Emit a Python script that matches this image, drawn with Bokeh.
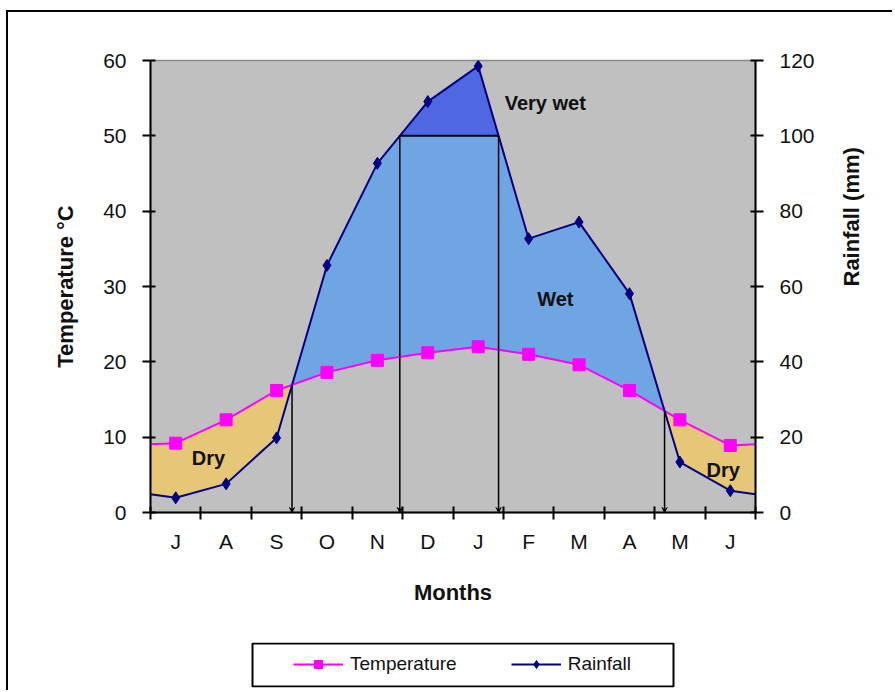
import math
import numpy as np
from bokeh.plotting import figure
from bokeh.layouts import column
from bokeh.models import (Range1d, LinearAxis, FixedTicker, Legend, LegendItem,
                          Arrow, VeeHead, Label, ColumnDataSource)
from bokeh.embed import file_html
from bokeh.resources import INLINE

# ---------------- data ----------------
months = ["J", "A", "S", "O", "N", "D", "J", "F", "M", "A", "M", "J"]
temperature = [9.2, 12.3, 16.2, 18.6, 20.2, 21.2, 22.0, 21.0, 19.6, 16.2, 12.3, 8.9]   # °C
rainfall = [3.9, 7.6, 19.8, 65.6, 92.7, 109.1, 118.5, 72.7, 77.1, 58.1, 13.4, 5.8]    # mm
temp_ticks = [0, 10, 20, 30, 40, 50, 60]
rain_ticks = [0, 20, 40, 60, 80, 100, 120]
very_wet_mm = 100

FONT = "Liberation Sans"
GRAY = "#c0c0c0"
DRY = "#e6c677"
WET = "#6fa5e2"
VWET = "#5067e4"
TEMP_C = "#ff00ff"
RAIN_C = "#000080"

# ---------------- derived geometry ----------------
n = len(months)
centers = [i + 0.5 for i in range(n)]
edge_t = (temperature[-1] + temperature[0]) / 2.0
edge_r = (rainfall[-1] + rainfall[0]) / 2.0
xk = np.array([0.0] + centers + [float(n)])
tk = np.array([edge_t] + temperature + [edge_t])
rk_mm = np.array([edge_r] + rainfall + [edge_r])
rk = rk_mm / 2.0                       # rainfall in temperature units (2 mm : 1 °C)
cap = very_wet_mm / 2.0

xs = [xk[0]]
cross_tr = []   # temp / rain crossings
cross_cap = []  # rain / 100 mm crossings
for i in range(len(xk) - 1):
    x0, x1 = xk[i], xk[i + 1]
    extra = []
    f0, f1 = rk[i] - tk[i], rk[i + 1] - tk[i + 1]
    if f0 * f1 < 0:
        xc = x0 + (x1 - x0) * f0 / (f0 - f1)
        extra.append(xc)
        cross_tr.append((xc, float(np.interp(xc, xk, tk))))
    g0, g1 = rk[i] - cap, rk[i + 1] - cap
    if g0 * g1 < 0:
        xc = x0 + (x1 - x0) * g0 / (g0 - g1)
        extra.append(xc)
        cross_cap.append((xc, cap))
    xs.extend(sorted(extra))
    xs.append(x1)
xs = np.array(xs)
t_all = np.interp(xs, xk, tk)
r_all = np.interp(xs, xk, rk)

# ---------------- main figure ----------------
W, H = 884, 620
ML, MT, FW, FH = 142, 48, 605, 452
p = figure(width=W, height=H, output_backend="svg", toolbar_location=None,
           x_range=Range1d(0, n), y_range=Range1d(temp_ticks[0], temp_ticks[-1]),
           min_border_left=ML, min_border_right=W - ML - FW,
           min_border_top=MT, min_border_bottom=H - MT - FH)
p.extra_y_ranges = {"rain": Range1d(rain_ticks[0], rain_ticks[-1])}
p.background_fill_color = GRAY
p.border_fill_color = "white"
p.outline_line_color = "#8a8a8a"
p.outline_line_width = 1.5
p.grid.visible = False

# fills
p.varea(x=xs, y1=r_all, y2=np.maximum(t_all, r_all), fill_color=DRY)
p.varea(x=xs, y1=t_all, y2=np.maximum(t_all, np.minimum(r_all, cap)), fill_color=WET)
p.varea(x=xs, y1=np.full_like(xs, cap), y2=np.maximum(r_all, cap), fill_color=VWET)

# division lines
vx = [c[0] for c in cross_tr] + [c[0] for c in cross_cap]
vy = [c[1] for c in cross_tr] + [c[1] for c in cross_cap]
src = ColumnDataSource(dict(x0=vx, y0=vy, x1=vx, y1=[0.0] * len(vx)))
p.add_layout(Arrow(source=src, x_start="x0", y_start="y0", x_end="x1", y_end="y1",
                   line_color="black", line_width=1.5,
                   end=VeeHead(size=5, line_color="black", line_width=1, fill_color="black")))
if len(cross_cap) >= 2:
    p.segment(x0=[cross_cap[0][0]], y0=[cap], x1=[cross_cap[-1][0]], y1=[cap],
              line_color="black", line_width=2)

# series
p.line(xk, tk, line_color=TEMP_C, line_width=2)
p.scatter(centers, temperature, marker="square", size=12,
          fill_color=TEMP_C, line_color=TEMP_C)
p.line(xk, rk_mm, line_color=RAIN_C, line_width=2, y_range_name="rain")
p.scatter(centers, rainfall, marker="diamond", size=12,
          fill_color=RAIN_C, line_color=RAIN_C, y_range_name="rain")

# region labels
for txt, x, y in [("Very wet", 7.83, 54.4), ("Wet", 8.03, 28.4),
                  ("Dry", 1.15, 7.2), ("Dry", 11.36, 5.6)]:
    p.add_layout(Label(x=x, y=y, text=txt, text_align="center", text_baseline="middle",
                       text_font=FONT, text_font_size="20px", text_font_style="bold",
                       text_color="#111111"))

# axes
xa = p.xaxis[0]
xa.ticker = FixedTicker(ticks=centers, minor_ticks=list(range(n + 1)))
xa.major_label_overrides = {c: m for c, m in zip(centers, months)}
xa.major_tick_in = 0
xa.major_tick_out = 0
xa.minor_tick_in = 6
xa.minor_tick_out = 7
xa.minor_tick_line_color = "black"
xa.minor_tick_line_width = 2
xa.axis_line_color = "black"
xa.axis_line_width = 2
xa.major_label_standoff = 10
xa.major_label_text_font = FONT
xa.major_label_text_font_size = "21px"
xa.major_label_text_color = "#111111"
xa.axis_label = "Months"
xa.axis_label_standoff = 24
xa.axis_label_text_font = FONT
xa.axis_label_text_font_size = "22px"
xa.axis_label_text_font_style = "bold"
xa.axis_label_text_color = "#111111"

ya = p.yaxis[0]
ra = LinearAxis(y_range_name="rain")
p.add_layout(ra, "right")
for ax, ticks, lab, stand in [(ya, temp_ticks, "Temperature °C", 22),
                             (ra, rain_ticks, "Rainfall (mm)", 34)]:
    ax.ticker = FixedTicker(ticks=ticks, minor_ticks=[])
    ax.major_tick_in = 5
    ax.major_tick_out = 8
    ax.minor_tick_in = 0
    ax.minor_tick_out = 0
    ax.major_tick_line_color = "black"
    ax.major_tick_line_width = 2
    ax.axis_line_color = "black"
    ax.axis_line_width = 2
    ax.major_label_standoff = 16
    ax.major_label_text_font = FONT
    ax.major_label_text_font_size = "21px"
    ax.major_label_text_color = "#111111"
    ax.axis_label = lab
    ax.axis_label_standoff = stand
    ax.axis_label_text_font = FONT
    ax.axis_label_text_font_size = "22px"
    ax.axis_label_text_font_style = "bold"
    ax.axis_label_text_color = "#111111"
ra.axis_label_orientation = math.pi / 2

# ---------------- legend strip (frame aligned with the main frame) ----------------
LH = 45
BOX_L, BOX_R = 102, 523          # legend box, in pixels from the frame's left edge
q = figure(width=W, height=58, output_backend="svg", toolbar_location=None,
           x_range=Range1d(0, FW), y_range=Range1d(0, LH),
           x_axis_type=None, y_axis_type=None,
           min_border_left=ML, min_border_right=W - ML - FW,
           min_border_top=10, min_border_bottom=58 - 10 - LH)
q.grid.visible = False
q.background_fill_color = "white"
q.border_fill_color = "white"
q.outline_line_color = None
q.quad(left=[BOX_L], right=[BOX_R], bottom=[1], top=[LH - 1],
       fill_color="white", line_color="black", line_width=2)
# legend-only renderers, kept far outside the visible area
off = [-5000.0, -4999.0]
lt = q.line(off, off, line_color=TEMP_C, line_width=2)
mt = q.scatter(off[:1], off[:1], marker="square", size=10, fill_color=TEMP_C, line_color=TEMP_C)
lr = q.line(off, off, line_color=RAIN_C, line_width=2)
mr = q.scatter(off[:1], off[:1], marker="diamond", size=12, fill_color=RAIN_C, line_color=RAIN_C)
legend = Legend(items=[LegendItem(label="Temperature", renderers=[lt, mt]),
                       LegendItem(label="Rainfall", renderers=[lr, mr])],
                orientation="horizontal", location=(BOX_L + 41, 12),
                border_line_alpha=0, background_fill_alpha=0,
                padding=0, margin=0, spacing=54,
                glyph_width=50, glyph_height=20, label_height=20, label_standoff=7,
                label_text_font=FONT, label_text_font_size="19px",
                label_text_color="#111111")
q.add_layout(legend, "center")

layout = column(p, q, spacing=0)
layout.styles = {"margin-left": "6px", "margin-top": "10px",
                 "border-left": "2px solid #000", "border-top": "2px solid #000"}

open("out.html", "w").write(file_html(layout, INLINE))
